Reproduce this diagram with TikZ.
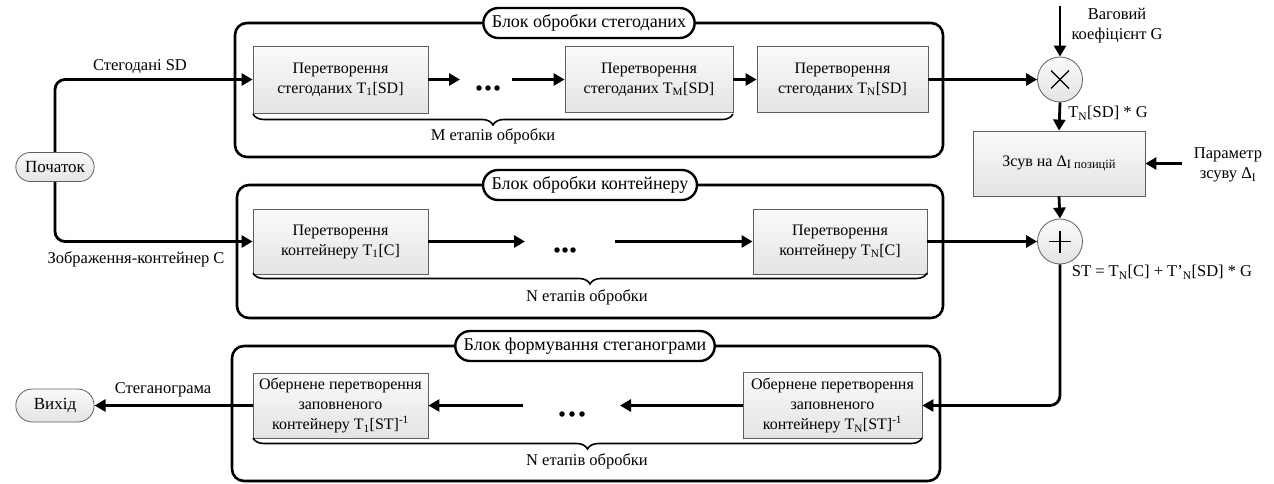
\documentclass[tikz,border=0pt]{standalone}
\usepackage{fontspec}
\setmainfont{Liberation Serif}
\usetikzlibrary{arrows.meta,shapes.misc,decorations.pathreplacing,calc}
\definecolor{bord}{RGB}{95,95,95}
\definecolor{ftop}{RGB}{250,250,250}
\definecolor{fbot}{RGB}{228,228,228}
\newcommand{\lsub}[1]{\textsubscript{#1}}
\begin{document}
\begin{tikzpicture}[x=1pt,y=-1pt,
  txt/.style={font=\fontsize{16.5}{20}\selectfont, inner sep=0pt, align=center},
  proc/.style={draw=bord, line width=0.8pt, top color=ftop, bottom color=fbot,
    font=\fontsize{16}{20}\selectfont, align=center, inner sep=1pt},
  block/.style={draw, line width=2.6pt, rounded corners=12pt},
  ttl/.style={draw, line width=2.4pt, rounded rectangle, fill=white, minimum height=30pt,
    inner xsep=6pt, font=\fontsize{18}{20}\selectfont},
  term/.style={draw=bord, line width=0.8pt, rounded rectangle, top color=ftop, bottom color=fbot,
    minimum width=85pt, font=\fontsize{17}{20}\selectfont},
  op/.style={circle, draw=bord, line width=0.8pt, minimum size=45pt, inner sep=0pt,
    top color=ftop, bottom color=fbot},
  arr/.style={line width=2.8pt, -{Triangle[length=11pt,width=12pt]}},
  brc/.style={decorate, decoration={brace, mirror, amplitude=11pt}, line width=1.6pt},
  dotn/.style={circle, fill, inner sep=0pt, minimum size=5.5pt}
]
\useasboundingbox (0,0) rectangle (1274,484);

% ---------- blocks ----------
\draw[block] (235,23) rectangle (943,157);
\node[ttl] (ttl1) at (589,23) {Блок обробки стегоданих};
\draw[block] (237,185) rectangle (943,318);
\node[ttl] (ttl2) at (590,185) {Блок обробки контейнеру};
\draw[block] (232,346) rectangle (940,481);
\node[ttl] (ttl3) at (585,346) {Блок формування стеганограми};

% ---------- terminals ----------
\node[term, minimum height=29pt] (start) at (55,167) {Початок};
\node[term, minimum height=33pt] (exit) at (55,405.5) {Вихід};

% ---------- top row ----------
\node[proc, minimum width=175pt, minimum height=67pt] (t1sd) at (340.5,79.5)
  {Перетворення\\стегоданих T\lsub{1}[SD]};
\node[proc, minimum width=168pt, minimum height=66pt] (tmsd) at (649,79.5)
  {Перетворення\\стегоданих T\lsub{M}[SD]};
\node[proc, minimum width=171pt, minimum height=66pt] (tnsd) at (842.5,79.5)
  {Перетворення\\стегоданих T\lsub{N}[SD]};
\coordinate (a1) at (460,79.5);
\coordinate (b1) at (512,79.5);
\node[dotn] (d1x) at (479,88) {};
\node[dotn] (d1y) at (488,88) {};
\node[dotn] (d1z) at (497,88) {};
\draw[arr] (t1sd.east) -- (a1);
\draw[arr] (b1) -- (tmsd.west);
\draw[arr] (tmsd.east) -- (tnsd.west);
\coordinate (br1a) at (253,114);
\coordinate (br1b) at (733,114);
\draw[brc] (br1a) -- (br1b);
\node[txt] (lm) at (493,136) {M етапів обробки};

% ---------- middle row ----------
\node[proc, minimum width=175pt, minimum height=65pt] (t1c) at (340.5,241.5)
  {Перетворення\\контейнеру T\lsub{1}[C]};
\node[proc, minimum width=174pt, minimum height=65pt] (tnc) at (840,241.5)
  {Перетворення\\контейнеру T\lsub{N}[C]};
\coordinate (a2) at (525,241.5);
\coordinate (b2) at (615,241.5);
\node[dotn] (d2x) at (557,250) {};
\node[dotn] (d2y) at (565,250) {};
\node[dotn] (d2z) at (573,250) {};
\draw[arr] (t1c.east) -- (a2);
\draw[arr] (b2) -- (tnc.west);
\coordinate (br2a) at (253,273);
\coordinate (br2b) at (927,273);
\draw[brc] (br2a) -- (br2b);
\node[txt] (ln1) at (587,297) {N етапів обробки};

% ---------- bottom row ----------
\node[proc, minimum width=175pt, minimum height=65pt] (t1st) at (340.5,405.5)
  {Обернене перетворення\\заповненого\\контейнеру T\lsub{1}[ST]\textsuperscript{-1}};
\node[proc, minimum width=179pt, minimum height=66pt] (tnst) at (832.5,405.5)
  {Обернене перетворення\\заповненого\\контейнеру T\lsub{N}[ST]\textsuperscript{-1}};
\coordinate (a3) at (620,405.5);
\coordinate (b3) at (523,405.5);
\node[dotn] (d3x) at (562,414) {};
\node[dotn] (d3y) at (572,414) {};
\node[dotn] (d3z) at (582,414) {};
\draw[arr] (tnst.west) -- (a3);
\draw[arr] (b3) -- (t1st.east);
\coordinate (br3a) at (253,438);
\coordinate (br3b) at (922,438);
\draw[brc] (br3a) -- (br3b);
\node[txt] (ln2) at (587,461) {N етапів обробки};
\draw[arr] (t1st.west) -- (exit.east);
\node[txt] (lst) at (163,390) {Стеганограма};

% ---------- start connectors ----------
\draw[arr, rounded corners=10pt] (start.north) |- (t1sd.west);
\draw[arr, rounded corners=10pt] (start.south) |- (t1c.west);
\node[txt] (lsd) at (140,67) {Стегодані SD};
\node[txt] (lc) at (136,259) {Зображення-контейнер C};

% ---------- right side ----------
\node[op] (mul) at (1060,79.5) {};
\draw[line width=1.1pt] ($(mul.center)+(-9,-9)$) -- ($(mul.center)+(9,9)$);
\draw[line width=1.1pt] ($(mul.center)+(-9,9)$) -- ($(mul.center)+(9,-9)$);
\node[proc, minimum width=172pt, minimum height=65pt] (shift) at (1059,163.5)
  {Зсув на Δ\raisebox{-2.5pt}{\fontsize{12.5}{14}\selectfont I позицій}};
\node[op] (plus) at (1060,241.5) {};
\draw[line width=1.1pt] ($(plus.center)+(-11,0)$) -- ($(plus.center)+(11,0)$);
\draw[line width=1.1pt] ($(plus.center)+(0,-11)$) -- ($(plus.center)+(0,11)$);

\coordinate (gtop) at (1060,6);
\draw[arr] (gtop) -- (mul.north);
\node[txt] (lg) at (1117,26) {Ваговий\\коефіцієнт G};
\draw[arr] (tnsd.east) -- (mul.west);
\draw[arr] (mul.south) -- (shift.north);
\node[txt] (lmul) at (1108,113) {T\lsub{N}[SD] * G};
\coordinate (ptail) at (1182,163.5);
\draw[arr] (ptail) -- (shift.east);
\node[txt] (lp) at (1228,165) {Параметр\\зсуву Δ\lsub{I}};
\draw[arr] (shift.south) -- (plus.north);
\draw[arr] (tnc.east) -- (plus.west);
\node[txt] (lsum) at (1162,272) {ST = T\lsub{N}[C] + T’\lsub{N}[SD] * G};
\draw[arr, rounded corners=10pt] (plus.south) |- (tnst.east);
\end{tikzpicture}
\end{document}
